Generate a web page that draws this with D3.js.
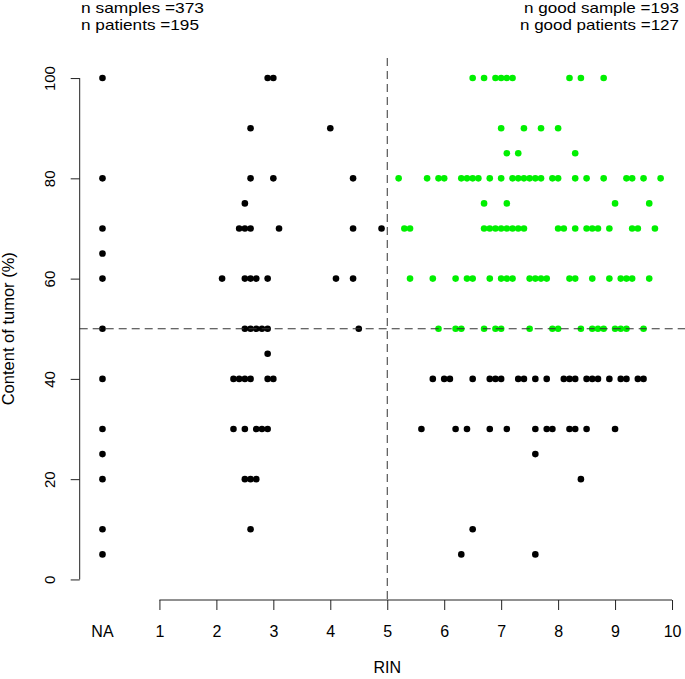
<!DOCTYPE html>
<html>
<head>
<meta charset="utf-8">
<script src="https://cdn.jsdelivr.net/npm/d3@7/dist/d3.min.js"></script>
<style>
  html, body { margin: 0; padding: 0; background: #fff; }
  svg { display: block; }
  text { font-family: "Liberation Sans", Arial, Helvetica, sans-serif; fill: #000; }
</style>
</head>
<body>
<svg id="chart" width="685" height="679"></svg>
<script>
// ---------- data ----------
// tumour content of samples with no RIN measured (plotted at the "NA" position)
const naTumor = [100, 80, 70, 65, 60, 50, 40, 30, 25, 20, 10, 5];

// samples with RIN <= 5 : [RIN, tumour %]
const lowRinPoints = [
  [2.9,100],[3.0,100],
  [2.6,90],[4.0,90],
  [2.6,80],[3.0,80],[4.4,80],
  [2.5,75],
  [2.4,70],[2.5,70],[2.6,70],[3.1,70],[4.4,70],[4.9,70],
  [2.1,60],[2.5,60],[2.6,60],[2.7,60],[2.9,60],[4.1,60],[4.4,60],
  [2.5,50],[2.6,50],[2.7,50],[2.8,50],[2.9,50],[4.5,50],
  [2.9,45],
  [2.3,40],[2.4,40],[2.5,40],[2.6,40],[2.9,40],[3.0,40],
  [2.3,30],[2.5,30],[2.7,30],[2.8,30],[2.9,30],
  [2.5,20],[2.6,20],[2.7,20],
  [2.6,10]
];

// samples with RIN > 5 but tumour < 50 %
const lowTumorPoints = [
  [5.8,40],[6.0,40],[6.1,40],[6.5,40],[6.8,40],[6.9,40],[7.0,40],[7.3,40],[7.4,40],[7.6,40],[7.8,40],
  [8.1,40],[8.2,40],[8.3,40],[8.5,40],[8.6,40],[8.7,40],[8.9,40],[9.1,40],[9.2,40],[9.4,40],[9.5,40],
  [5.6,30],[6.2,30],[6.4,30],[6.8,30],[7.1,30],[7.6,30],[7.8,30],[7.9,30],[8.2,30],[8.3,30],[8.5,30],[9.0,30],
  [7.6,25],
  [8.4,20],
  [6.5,10],
  [6.3,5],[7.6,5]
];

// good samples: RIN > 5 and tumour >= 50 %
const goodPoints = [
  [6.5,100],[6.7,100],[6.9,100],[7.0,100],[7.1,100],[7.2,100],[8.2,100],[8.4,100],[8.8,100],
  [7.0,90],[7.4,90],[7.7,90],[8.0,90],
  [7.1,85],[7.3,85],[8.3,85],
  [5.2,80],[5.7,80],[5.9,80],[6.0,80],[6.3,80],[6.4,80],[6.5,80],[6.6,80],[6.8,80],[7.0,80],[7.2,80],
  [7.3,80],[7.4,80],[7.5,80],[7.6,80],[7.7,80],[7.9,80],[8.0,80],[8.3,80],[8.5,80],[8.8,80],[9.2,80],
  [9.3,80],[9.5,80],[9.8,80],
  [6.7,75],[7.1,75],[9.0,75],[9.6,75],
  [5.3,70],[5.4,70],[6.7,70],[6.8,70],[6.9,70],[7.0,70],[7.1,70],[7.2,70],[7.3,70],[7.4,70],
  [8.0,70],[8.1,70],[8.3,70],[8.5,70],[8.6,70],[8.7,70],[8.9,70],[9.3,70],[9.4,70],[9.7,70],
  [5.4,60],[5.8,60],[6.2,60],[6.4,60],[6.5,60],[6.8,60],[7.0,60],[7.1,60],[7.2,60],[7.5,60],[7.6,60],
  [7.7,60],[7.8,60],[8.2,60],[8.3,60],[8.6,60],[8.9,60],[9.1,60],[9.2,60],[9.3,60],[9.6,60],
  [5.9,50],[6.2,50],[6.3,50],[6.7,50],[6.9,50],[7.0,50],[7.5,50],[7.9,50],[8.0,50],[8.4,50],
  [8.6,50],[8.7,50],[8.8,50],[9.0,50],[9.1,50],[9.2,50],[9.5,50]
];

const xTickValues = [1,2,3,4,5,6,7,8,9,10];
const yTickValues = [0,20,40,60,80,100];
const naPosition = 0;
const rinCut = 5;
const tumorCut = 50;

const statsLeft  = ["n samples =373", "n patients =195"];
const statsRight = ["n good sample =193", "n good patients =127"];

// ---------- drawing ----------
const svg = d3.select("#chart");
const x = d3.scaleLinear().domain([-0.4, 10.4]).range([79.7, 694.8]);
const y = d3.scaleLinear().domain([-4, 104]).range([599.5, 58]);
const axisColor = "#222";
const R = 3.3;

// points
const black = "#000";
const green = "#00f000";
const gPts = svg.append("g");
gPts.selectAll("circle.na").data(naTumor).join("circle")
  .attr("cx", x(naPosition)).attr("cy", d => y(d)).attr("r", R).attr("fill", black);
gPts.selectAll("circle.low").data(lowRinPoints.concat(lowTumorPoints)).join("circle")
  .attr("class","low")
  .attr("cx", d => x(d[0])).attr("cy", d => y(d[1])).attr("r", R).attr("fill", black);
gPts.selectAll("circle.good").data(goodPoints).join("circle")
  .attr("class","good")
  .attr("cx", d => x(d[0])).attr("cy", d => y(d[1])).attr("r", R).attr("fill", green);

// reference lines (drawn over the points)
svg.append("line")
  .attr("x1", x(rinCut)).attr("x2", x(rinCut))
  .attr("y1", y.range()[1]).attr("y2", y.range()[0])
  .attr("stroke", "#333").attr("stroke-width", 1).attr("stroke-dasharray", "8,5");
svg.append("line")
  .attr("x1", x.range()[0]).attr("x2", x.range()[1])
  .attr("y1", y(tumorCut)).attr("y2", y(tumorCut))
  .attr("stroke", "#333").attr("stroke-width", 1).attr("stroke-dasharray", "8,5");

// y axis
const yAxis = d3.axisLeft(y).tickValues(yTickValues).tickSize(9).tickSizeOuter(0).tickPadding(0);
const gy = svg.append("g").attr("transform", `translate(${x.range()[0]},0)`).call(yAxis);
gy.select(".domain").attr("d", `M0,${y(0)}V${y(100)}`).attr("stroke", axisColor);
gy.selectAll(".tick line").attr("stroke", axisColor);
gy.selectAll(".tick text")
  .attr("x", null).attr("dy", null)
  .attr("transform", "translate(-24.7,0) rotate(-90)")
  .attr("text-anchor", "middle")
  .attr("font-size", 15).attr("font-family", "Liberation Sans, Arial, sans-serif").attr("fill", "#000");

// x axis
const xAxis = d3.axisBottom(x).tickValues(xTickValues).tickSize(10).tickSizeOuter(0).tickPadding(0)
  .tickFormat(d3.format("d"));
const gx = svg.append("g").attr("transform", `translate(0,600)`).call(xAxis);
gx.select(".domain").attr("d", `M${x(1)},0H${x(10)}`).attr("stroke", axisColor);
gx.selectAll(".tick line").attr("stroke", axisColor);
gx.selectAll(".tick text")
  .attr("y", 37).attr("dy", null)
  .attr("font-size", 16).attr("font-family", "Liberation Sans, Arial, sans-serif").attr("fill", "#000");
gx.append("text").attr("x", x(naPosition)).attr("y", 37)
  .attr("text-anchor", "middle").attr("font-size", 16).attr("fill", "#000").text("NA");

// axis titles
svg.append("text").attr("x", (x.range()[0] + x.range()[1]) / 2).attr("y", 673)
  .attr("text-anchor", "middle").attr("font-size", 16).text("RIN");
svg.append("text")
  .attr("transform", `translate(14,${(y.range()[0] + y.range()[1]) / 2}) rotate(-90)`)
  .attr("text-anchor", "middle").attr("font-size", 16.5).text("Content of tumor (%)");

// stats text
const leftLens = [123, 118];
const rightLens = [155, 159];
statsLeft.forEach((t, i) => {
  svg.append("text").attr("x", 81).attr("y", 13 + i * 17)
    .attr("font-size", 15).attr("textLength", leftLens[i]).attr("lengthAdjust", "spacingAndGlyphs").text(t);
});
statsRight.forEach((t, i) => {
  svg.append("text").attr("x", 679 - rightLens[i]).attr("y", 13 + i * 17)
    .attr("font-size", 15).attr("textLength", rightLens[i]).attr("lengthAdjust", "spacingAndGlyphs").text(t);
});
</script>
</body>
</html>
